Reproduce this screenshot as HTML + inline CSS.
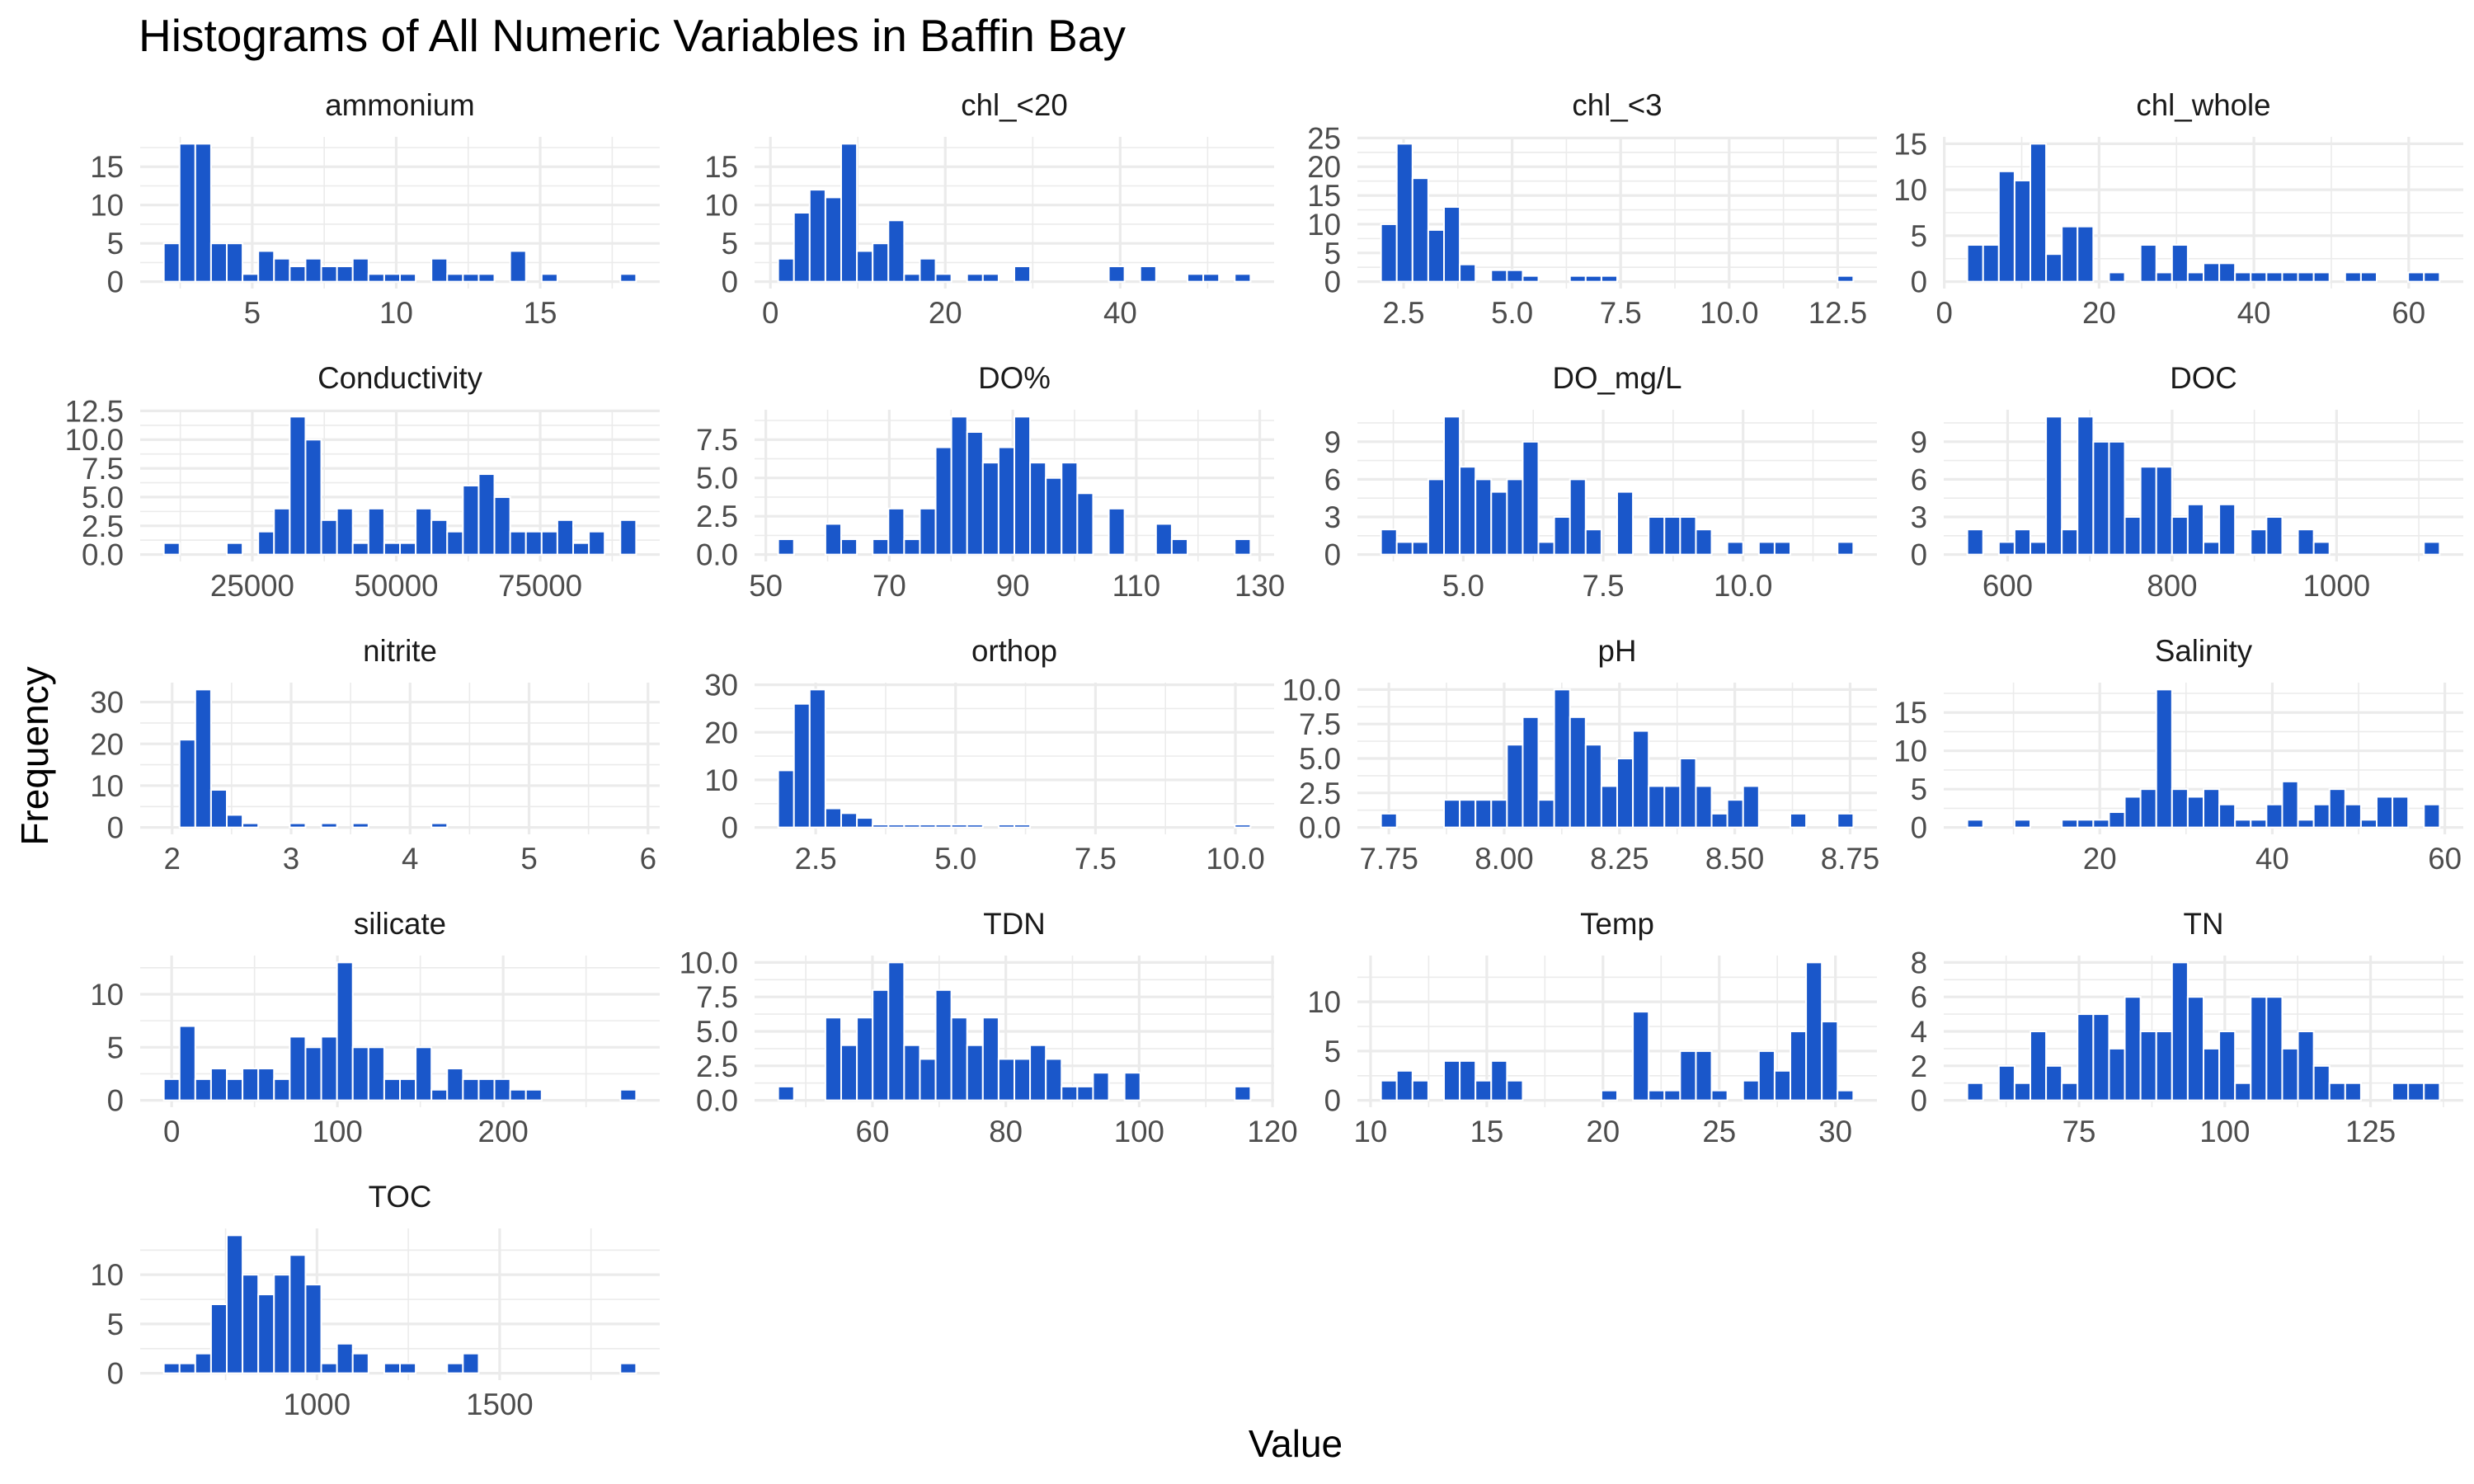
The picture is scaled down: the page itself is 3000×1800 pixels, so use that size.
<!DOCTYPE html>
<html><head><meta charset="utf-8"><style>
html,body{margin:0;padding:0;background:#fff;}
svg{display:block;font-family:"Liberation Sans",Arial,sans-serif;}
</style></head><body>
<svg id="chart" width="3000" height="1800" viewBox="0 0 3000 1800" xmlns="http://www.w3.org/2000/svg">
<rect x="0" y="0" width="3000" height="1800" fill="#fff"/>
<text x="168" y="62" font-size="55" fill="#000" textLength="1197" lengthAdjust="spacingAndGlyphs">Histograms of All Numeric Variables in Baffin Bay</text>
<text x="1571" y="1767" font-size="46" fill="#000" text-anchor="middle">Value</text>
<text transform="translate(58,917) rotate(-90)" font-size="46" fill="#000" text-anchor="middle">Frequency</text>
<g id="panels"></g>
</svg>
<script>
// ---- data (30 bins per variable) ----
const names = ["ammonium","chl_<20","chl_<3","chl_whole","Conductivity","DO%","DO_mg/L","DOC","nitrite","orthop","pH","Salinity","silicate","TDN","Temp","TN","TOC"];
const ammoniumCounts = [5,18,18,5,5,1,4,3,2,3,2,2,3,1,1,1,0,3,1,1,1,0,4,0,1,0,0,0,0,1];
const chl20Counts = [3,9,12,11,18,4,5,8,1,3,1,0,1,1,0,2,0,0,0,0,0,2,0,2,0,0,1,1,0,1];
const chl3Counts = [10,24,18,9,13,3,0,2,2,1,0,0,1,1,1,0,0,0,0,0,0,0,0,0,0,0,0,0,0,1];
const chlWholeCounts = [4,4,12,11,15,3,6,6,0,1,0,4,1,4,1,2,2,1,1,1,1,1,1,0,1,1,0,0,1,1];
const conductivityCounts = [1,0,0,0,1,0,2,4,12,10,3,4,1,4,1,1,4,3,2,6,7,5,2,2,2,3,1,2,0,3];
const doPctCounts = [1,0,0,2,1,0,1,3,1,3,7,9,8,6,7,9,6,5,6,4,0,3,0,0,2,1,0,0,0,1];
const doMgCounts = [2,1,1,6,11,7,6,5,6,9,1,3,6,2,0,5,0,3,3,3,2,0,1,0,1,1,0,0,0,1];
const docCounts = [2,0,1,2,1,11,2,11,9,9,3,7,7,3,4,1,4,0,2,3,0,2,1,0,0,0,0,0,0,1];
const nitriteCounts = [0,21,33,9,3,1,0,0,1,0,1,0,1,0,0,0,0,1,0,0,0,0,0,0,0,0,0,0,0,0];
const orthopCounts = [12,26,29,4,3,2,0.6,0.6,0.6,0.6,0.6,0.6,0.6,0,0.6,0.6,0,0,0,0,0,0,0,0,0,0,0,0,0,0.6];
const phCounts = [1,0,0,0,2,2,2,2,6,8,2,10,8,6,3,5,7,3,3,5,3,1,2,3,0,0,1,0,0,1];
const salinityCounts = [1,0,0,1,0,0,1,1,1,2,4,5,18,5,4,5,3,1,1,3,6,1,3,5,3,1,4,4,0,3];
const silicateCounts = [2,7,2,3,2,3,3,2,6,5,6,13,5,5,2,2,5,1,3,2,2,2,1,1,0,0,0,0,0,1];
const tdnCounts = [1,0,0,6,4,6,8,10,4,3,8,6,4,6,3,3,4,3,1,1,2,0,2,0,0,0,0,0,0,1];
const tempCounts = [2,3,2,0,4,4,2,4,2,0,0,0,0,0,1,0,9,1,1,5,5,1,0,2,5,3,7,14,8,1];
const tnCounts = [1,0,2,1,4,2,1,5,5,3,6,4,4,8,6,3,4,1,6,6,3,4,2,1,1,0,0,1,1,1];
const tocCounts = [1,1,2,7,14,10,8,10,12,9,1,3,2,0,1,1,0,0,1,2,0,0,0,0,0,0,0,0,0,1];
// bin extents (data units)
const binLo = [1.93,0.89,1.98,2.98,9633,52.0,3.53,551,1.93,1.83,7.733,4.65,-4.75,45.86,10.45,55.85,581];
const binHi = [18.33,54.9,12.86,64.0,91653,128.5,11.97,1125.4,5.9,10.27,8.757,59.4,280.2,116.7,30.77,136.85,1873.4];
// tick values
const xTicks = [[5,10,15],[0,20,40],[2.5,5,7.5,10,12.5],[0,20,40,60],[25000,50000,75000],[50,70,90,110,130],[5,7.5,10],[600,800,1000],[2,3,4,5,6],[2.5,5,7.5,10],[7.75,8,8.25,8.5,8.75],[20,40,60],[0,100,200],[60,80,100,120],[10,15,20,25,30],[75,100,125],[1000,1500]];
const xTickLabels = [["5","10","15"],["0","20","40"],["2.5","5.0","7.5","10.0","12.5"],["0","20","40","60"],["25000","50000","75000"],["50","70","90","110","130"],["5.0","7.5","10.0"],["600","800","1000"],["2","3","4","5","6"],["2.5","5.0","7.5","10.0"],["7.75","8.00","8.25","8.50","8.75"],["20","40","60"],["0","100","200"],["60","80","100","120"],["10","15","20","25","30"],["75","100","125"],["1000","1500"]];
const yTicks = [[0,5,10,15],[0,5,10,15],[0,5,10,15,20,25],[0,5,10,15],[0,2.5,5,7.5,10,12.5],[0,2.5,5,7.5],[0,3,6,9],[0,3,6,9],[0,10,20,30],[0,10,20,30],[0,2.5,5,7.5,10],[0,5,10,15],[0,5,10],[0,2.5,5,7.5,10],[0,5,10],[0,2,4,6,8],[0,5,10]];
const yTickLabels = [["0","5","10","15"],["0","5","10","15"],["0","5","10","15","20","25"],["0","5","10","15"],["0.0","2.5","5.0","7.5","10.0","12.5"],["0.0","2.5","5.0","7.5"],["0","3","6","9"],["0","3","6","9"],["0","10","20","30"],["0","10","20","30"],["0.0","2.5","5.0","7.5","10.0"],["0","5","10","15"],["0","5","10"],["0.0","2.5","5.0","7.5","10.0"],["0","5","10"],["0","2","4","6","8"],["0","5","10"]];
const allCounts = [ammoniumCounts,chl20Counts,chl3Counts,chlWholeCounts,conductivityCounts,doPctCounts,doMgCounts,docCounts,nitriteCounts,orthopCounts,phCounts,salinityCounts,silicateCounts,tdnCounts,tempCounts,tnCounts,tocCounts];

// ---- layout ----
const colLeft = [170,915,1646,2357];
const panelW = 630, panelH = 184, rowTop0 = 166, rowStep = 331;
const NS = "http://www.w3.org/2000/svg";
const root = document.getElementById('panels');
function mk(tag, attrs, parent){const e=document.createElementNS(NS,tag);for(const k in attrs)e.setAttribute(k,attrs[k]);parent.appendChild(e);return e;}

names.forEach((nm,i)=>{
  const col=i%4, row=Math.floor(i/4);
  const L=colLeft[col], T=rowTop0+row*rowStep, R=L+panelW, B=T+panelH;
  const counts=allCounts[i];
  const lo=binLo[i], hi=binHi[i];
  const span=hi-lo, xMin=lo-0.05*span, xMax=hi+0.05*span;
  const M=Math.max(...counts), yMin=-0.05*M, yMax=1.05*M;
  const sx=v=>L+(v-xMin)/(xMax-xMin)*panelW;
  const sy=v=>B-(v-yMin)/(yMax-yMin)*panelH;
  const g=mk('g',{},root);
  
  
  // grid
  const xt=xTicks[i], yt=yTicks[i];
  const xs=xt[1]-xt[0], ys=yt[1]-yt[0];
  for(let v=xt[0]-xs/2; v<=xMax; v+=xs){ if(v>=xMin){const x=sx(v);const l=mk('line',{x1:x,x2:x,y1:T,y2:B,stroke:'#EBEBEB','stroke-width':1.6},g);} }
  for(let v=yt[0]-ys/2; v<=yMax; v+=ys){ if(v>=yMin){const y=sy(v);const l=mk('line',{x1:L,x2:R,y1:y,y2:y,stroke:'#EBEBEB','stroke-width':1.6},g);} }
  xt.forEach(v=>{const x=sx(v);const l=mk('line',{x1:x,x2:x,y1:T,y2:B,stroke:'#EBEBEB','stroke-width':3.2},g);});
  yt.forEach(v=>{const y=sy(v);const l=mk('line',{x1:L,x2:R,y1:y,y2:y,stroke:'#EBEBEB','stroke-width':3.2},g);});
  // bars
  const w=span/30;
  counts.forEach((c,k)=>{
    const x0=sx(lo+k*w), x1=sx(lo+(k+1)*w), y0=sy(0), y1=sy(c);
    const r=mk('rect',{x:x0,y:Math.min(y0,y1),width:x1-x0,height:Math.abs(y0-y1),fill:'#1A57CA',stroke:'#ffffff','stroke-width':2},g);
    
    
  });
  // strip
  const s=mk('text',{x:(L+R)/2,y:T-26,'font-size':36.7,fill:'#1A1A1A','text-anchor':'middle'},g);
  s.textContent=nm;
  
  
  // tick labels
  xt.forEach((v,k)=>{const t=mk('text',{x:sx(v),y:B+42,'font-size':36.7,fill:'#4D4D4D','text-anchor':'middle'},g);t.textContent=xTickLabels[i][k];});
  yt.forEach((v,k)=>{const t=mk('text',{x:L-20,y:sy(v)+13,'font-size':36.7,fill:'#4D4D4D','text-anchor':'end'},g);t.textContent=yTickLabels[i][k];});
});
</script>
</body></html>
